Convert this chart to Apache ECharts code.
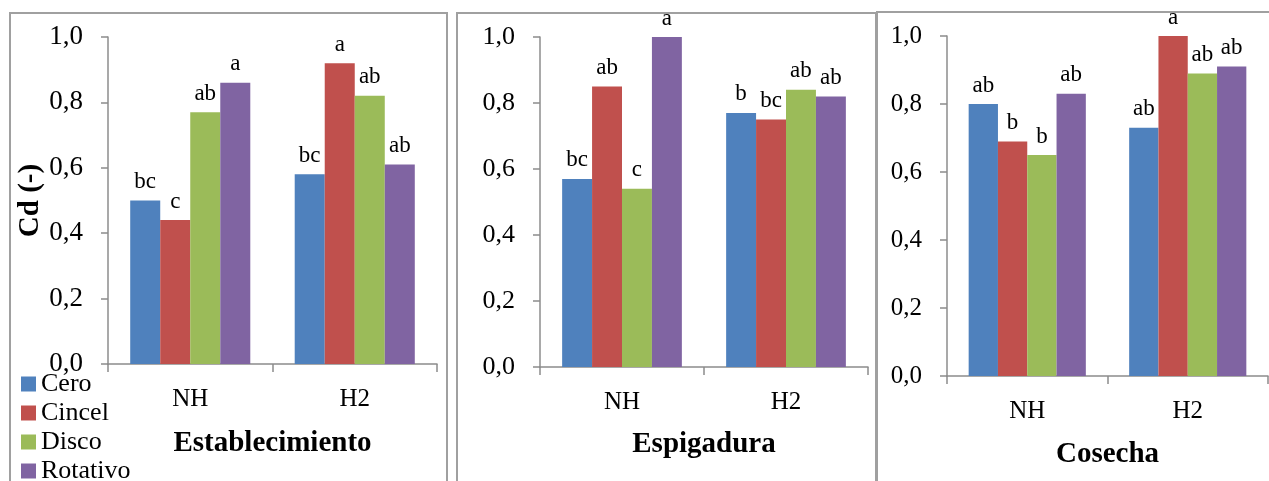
<!DOCTYPE html>
<html>
<head>
<meta charset="utf-8">
<script src="https://cdn.jsdelivr.net/npm/echarts@6/dist/echarts.min.js"></script>
<style>
html,body{margin:0;padding:0;background:#fff;}
#main{width:1269px;height:481px;}
</style>
</head>
<body>
<div id="main"></div>
<script>
// datos
var categorias = ['NH', 'H2'];
var tratamientos = ['Cero', 'Cincel', 'Disco', 'Rotativo'];
var etapas = ['Establecimiento', 'Espigadura', 'Cosecha'];
var yTicks = [0, 0.2, 0.4, 0.6, 0.8, 1.0];

// valores Cd por etapa: [NH, H2]
var establecimiento = {
    Cero: [0.50, 0.58],
    Cincel: [0.44, 0.92],
    Disco: [0.77, 0.82],
    Rotativo: [0.86, 0.61]
};
var espigadura = {
    Cero: [0.57, 0.77],
    Cincel: [0.85, 0.75],
    Disco: [0.54, 0.84],
    Rotativo: [1.00, 0.82]
};
var cosecha = {
    Cero: [0.80, 0.73],
    Cincel: [0.69, 1.00],
    Disco: [0.65, 0.89],
    Rotativo: [0.83, 0.91]
};
// letras de significancia
var letrasEstablecimiento = {
    Cero: ['bc', 'bc'],
    Cincel: ['c', 'a'],
    Disco: ['ab', 'ab'],
    Rotativo: ['a', 'ab']
};
var letrasEspigadura = {
    Cero: ['bc', 'b'],
    Cincel: ['ab', 'bc'],
    Disco: ['c', 'ab'],
    Rotativo: ['a', 'ab']
};
var letrasCosecha = {
    Cero: ['ab', 'ab'],
    Cincel: ['b', 'a'],
    Disco: ['b', 'ab'],
    Rotativo: ['ab', 'ab']
};

var colores = {Cero: '#4F81BD', Cincel: '#C0504D', Disco: '#9BBB59', Rotativo: '#8064A2'};
var fuente = 'Liberation Serif';
var ejeColor = '#8c8c8c';

var valores = [establecimiento, espigadura, cosecha];
var letras = [letrasEstablecimiento, letrasEspigadura, letrasCosecha];

var grids = [
    {left: 108, top: 37, width: 329, height: 327},
    {left: 540, top: 37, width: 328, height: 330},
    {left: 947, top: 36, width: 321, height: 340}
];
var tituloGap = [65, 63, 64];
var ySize = [27, 26, 25];

function drawChart(){
    var myChart = echarts.init(document.getElementById('main'));
    var xAxis = [], yAxis = [], series = [];
    $each(etapas, function(i, etapa){
        xAxis.push({
            type: 'category',
            gridIndex: i,
            data: categorias,
            name: etapa,
            nameLocation: 'middle',
            nameGap: tituloGap[i],
            nameTextStyle: {fontFamily: fuente, fontWeight: 'bold', fontSize: 29, color: '#000'},
            axisLine: {lineStyle: {color: ejeColor, width: 1.5}},
            axisTick: {show: true, length: 8, lineStyle: {color: ejeColor, width: 1.5}},
            axisLabel: {fontFamily: fuente, fontSize: 25, color: '#000', margin: 23}
        });
        yAxis.push({
            type: 'value',
            gridIndex: i,
            min: yTicks[0],
            max: yTicks[yTicks.length - 1],
            interval: 0.2,
            name: i === 0 ? 'Cd (-)' : '',
            nameLocation: 'middle',
            nameGap: 62,
            nameTextStyle: {fontFamily: fuente, fontWeight: 'bold', fontSize: 29, color: '#000'},
            splitLine: {show: false},
            axisLine: {show: true, lineStyle: {color: ejeColor, width: 1.5}},
            axisTick: {show: true, length: 7, lineStyle: {color: ejeColor, width: 1.5}},
            axisLabel: {
                fontFamily: fuente, fontSize: ySize[i], color: '#000', margin: 25,
                formatter: function(v){ return v.toFixed(1).replace('.', ','); }
            }
        });
        $each(tratamientos, function(j, t){
            var datos = valores[i][t].map(function(v, k){
                return {value: v, label: {formatter: letras[i][t][k]}};
            });
            series.push({
                name: t,
                type: 'bar',
                xAxisIndex: i,
                yAxisIndex: i,
                data: datos,
                barGap: '0%',
                barCategoryGap: '27%',
                itemStyle: {color: colores[t]},
                label: {
                    show: true,
                    position: 'top',
                    distance: 7,
                    fontFamily: fuente,
                    fontSize: 23,
                    color: '#000'
                }
            });
        });
    });
    var option = {
        animation: false,
        textStyle: {fontFamily: fuente},
        grid: grids,
        xAxis: xAxis,
        yAxis: yAxis,
        legend: {
            orient: 'vertical',
            left: 16,
            top: 366,
            height: 200,
            itemWidth: 15,
            itemHeight: 15,
            itemGap: 3,
            icon: 'rect',
            data: tratamientos,
            textStyle: {fontFamily: "'Liberation Serif', serif", fontStyle: 'normal', fontWeight: 'normal', fontSize: 26, color: '#000'}
        },
        graphic: [
            {type: 'rect', shape: {x: 10, y: 13, width: 437, height: 520}, style: {fill: 'none', stroke: '#a0a0a0', lineWidth: 2}, z: -1},
            {type: 'rect', shape: {x: 457, y: 13, width: 419, height: 520}, style: {fill: 'none', stroke: '#a0a0a0', lineWidth: 2}, z: -1},
            {type: 'rect', shape: {x: 877, y: 12, width: 420, height: 520}, style: {fill: 'none', stroke: '#a0a0a0', lineWidth: 2}, z: -1}
        ],
        series: series
    };
    myChart.setOption(option);
}
function $each(arr, fn){
    for (var i = 0; i < arr.length; i++) fn(i, arr[i]);
}
drawChart();
</script>
</body>
</html>
